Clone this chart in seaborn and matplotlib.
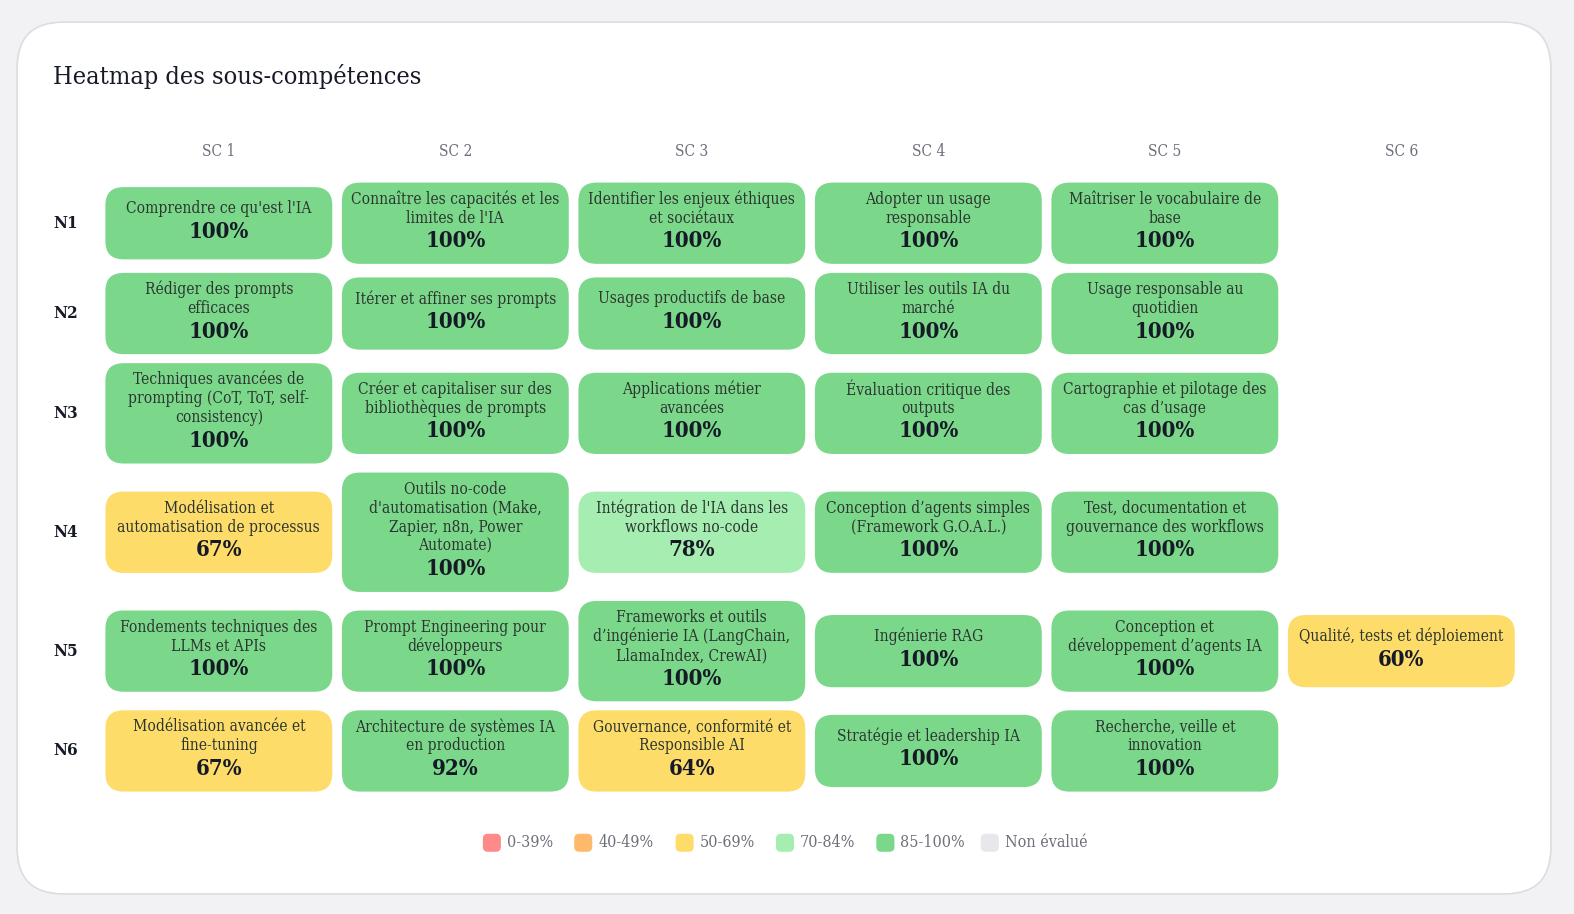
"""Heatmap des sous-compétences : grille de cartes arrondies par niveau / sous-compétence."""

import matplotlib

matplotlib.use("Agg")
import seaborn as sns
from matplotlib import font_manager
from matplotlib import pyplot as plt
from matplotlib.patches import FancyBboxPatch

# --- data -------------------------------------------------------------------
COLUMNS = ["SC 1", "SC 2", "SC 3", "SC 4", "SC 5", "SC 6"]
ROWS = ["N1", "N2", "N3", "N4", "N5", "N6"]

LABELS_N1 = [
    "Comprendre ce qu'est l'IA",
    "Connaître les capacités et les\nlimites de l'IA",
    "Identifier les enjeux éthiques\net sociétaux",
    "Adopter un usage\nresponsable",
    "Maîtriser le vocabulaire de\nbase",
    None,
]
LABELS_N2 = [
    "Rédiger des prompts\nefficaces",
    "Itérer et affiner ses prompts",
    "Usages productifs de base",
    "Utiliser les outils IA du\nmarché",
    "Usage responsable au\nquotidien",
    None,
]
LABELS_N3 = [
    "Techniques avancées de\nprompting (CoT, ToT, self-\nconsistency)",
    "Créer et capitaliser sur des\nbibliothèques de prompts",
    "Applications métier\navancées",
    "Évaluation critique des\noutputs",
    "Cartographie et pilotage des\ncas d’usage",
    None,
]
LABELS_N4 = [
    "Modélisation et\nautomatisation de processus",
    "Outils no-code\nd'automatisation (Make,\nZapier, n8n, Power\nAutomate)",
    "Intégration de l'IA dans les\nworkflows no-code",
    "Conception d’agents simples\n(Framework G.O.A.L.)",
    "Test, documentation et\ngouvernance des workflows",
    None,
]
LABELS_N5 = [
    "Fondements techniques des\nLLMs et APIs",
    "Prompt Engineering pour\ndéveloppeurs",
    "Frameworks et outils\nd’ingénierie IA (LangChain,\nLlamaIndex, CrewAI)",
    "Ingénierie RAG",
    "Conception et\ndéveloppement d’agents IA",
    "Qualité, tests et déploiement",
]
LABELS_N6 = [
    "Modélisation avancée et\nfine-tuning",
    "Architecture de systèmes IA\nen production",
    "Gouvernance, conformité et\nResponsible AI",
    "Stratégie et leadership IA",
    "Recherche, veille et\ninnovation",
    None,
]

SCORES_N1 = [100, 100, 100, 100, 100, None]
SCORES_N2 = [100, 100, 100, 100, 100, None]
SCORES_N3 = [100, 100, 100, 100, 100, None]
SCORES_N4 = [67, 100, 78, 100, 100, None]
SCORES_N5 = [100, 100, 100, 100, 100, 60]
SCORES_N6 = [67, 92, 64, 100, 100, None]

LABELS = [LABELS_N1, LABELS_N2, LABELS_N3, LABELS_N4, LABELS_N5, LABELS_N6]
SCORES = [SCORES_N1, SCORES_N2, SCORES_N3, SCORES_N4, SCORES_N5, SCORES_N6]

LEGEND_LABELS = ["0-39%", "40-49%", "50-69%", "70-84%", "85-100%", "Non évalué"]
LEGEND_COLORS = ["#ff8a8a", "#ffb96d", "#fddc6a", "#a6edb1", "#7bd88a", "#e9e7ec"]
BAND_LOWER = [0, 40, 50, 70, 85]

# --- style ------------------------------------------------------------------
sns.set_theme(style="white")
PALETTE = sns.color_palette(LEGEND_COLORS)

serif_path = font_manager.findfont(
    font_manager.FontProperties(family="DejaVu Serif", stretch="condensed")
)
STRETCH = "condensed" if "Condensed" in serif_path else "normal"
plt.rcParams["font.family"] = ["DejaVu Serif", "DejaVu Sans"]

BG = "#f2f1f4"
DARK = "#161a26"
GREY = "#6e6e7c"
CELL_TEXT = "#2c3630"

# layout is measured on a 1568 x 911 view of the page
W, H = 1568, 911
OUT_W, OUT_H = 1574, 914
PX = 0.72 * OUT_W / W  # layout px -> pt at dpi 100

COL_LEFT = 105
COL_PITCH = 235.6
CELL_W = 226
HEADER_Y = 151
GRID_TOP = 182
ROW_GAP = 9
LINE_H = 19


def _band_color(score):
    if score is None:
        return PALETTE[-1]
    idx = max(i for i, lo in enumerate(BAND_LOWER) if score >= lo)
    return PALETTE[idx]


def _cell_height(label):
    n_lines = label.count("\n") + 1
    return max(72, 43 + LINE_H * n_lines)


def _main():
    fig = plt.figure(figsize=(OUT_W / 100, OUT_H / 100), dpi=100, facecolor=BG)
    ax = fig.add_axes((0, 0, 1, 1))
    ax.set_xlim(0, W)
    ax.set_ylim(H, 0)
    ax.axis("off")

    # Card
    ax.add_patch(
        FancyBboxPatch(
            (17, 22), 1528, 869,
            boxstyle="round,pad=0,rounding_size=46",
            facecolor="white", edgecolor="#dddce2", linewidth=1.2,
        )
    )
    ax.text(53, 76, "Heatmap des sous-compétences", fontsize=25 * PX,
            color=DARK, va="center", ha="left", fontstretch=STRETCH)

    for j, col in enumerate(COLUMNS):
        cx = COL_LEFT + j * COL_PITCH + CELL_W / 2
        ax.text(cx, HEADER_Y, col, fontsize=15.5 * PX, color=GREY,
                ha="center", va="center", fontstretch=STRETCH)

    y = GRID_TOP
    for i, row in enumerate(ROWS):
        row_h = max(_cell_height(lab) for lab in LABELS[i] if lab is not None)
        cy = y + row_h / 2
        ax.text(53, cy, row, fontsize=17 * PX, color=DARK, fontweight="bold",
                ha="left", va="center", fontstretch=STRETCH)
        for j, (label, score) in enumerate(zip(LABELS[i], SCORES[i])):
            if label is None:
                continue
            h = _cell_height(label)
            x0 = COL_LEFT + j * COL_PITCH
            ax.add_patch(
                FancyBboxPatch(
                    (x0, cy - h / 2), CELL_W, h,
                    boxstyle="round,pad=0,rounding_size=18",
                    facecolor=_band_color(score), edgecolor="none",
                )
            )
            lines = label.split("\n")
            n = len(lines)
            span = LINE_H * (n - 1) + 23
            top = cy - 3 - span / 2
            for k, line in enumerate(lines):
                ax.text(x0 + CELL_W / 2, top + LINE_H * k, line,
                        fontsize=15.5 * PX, color=CELL_TEXT, ha="center",
                        va="center", fontstretch=STRETCH)
            ax.text(x0 + CELL_W / 2, top + span, f"{score}%",
                    fontsize=22 * PX, color=DARK, fontweight="bold",
                    ha="center", va="center", fontstretch=STRETCH)
        y += row_h + ROW_GAP

    # Legend
    legend_x = [481, 572, 673, 773, 873, 977]
    for lx, lab, color in zip(legend_x, LEGEND_LABELS, PALETTE):
        ax.add_patch(
            FancyBboxPatch(
                (lx, 831), 18, 18,
                boxstyle="round,pad=0,rounding_size=5",
                facecolor=color, edgecolor="none",
            )
        )
        ax.text(lx + 24, 840, lab, fontsize=16 * PX, color=GREY,
                ha="left", va="center", fontstretch=STRETCH)

    fig.savefig("out.png", dpi=100, facecolor=BG)


if __name__ == "__main__":
    _main()
